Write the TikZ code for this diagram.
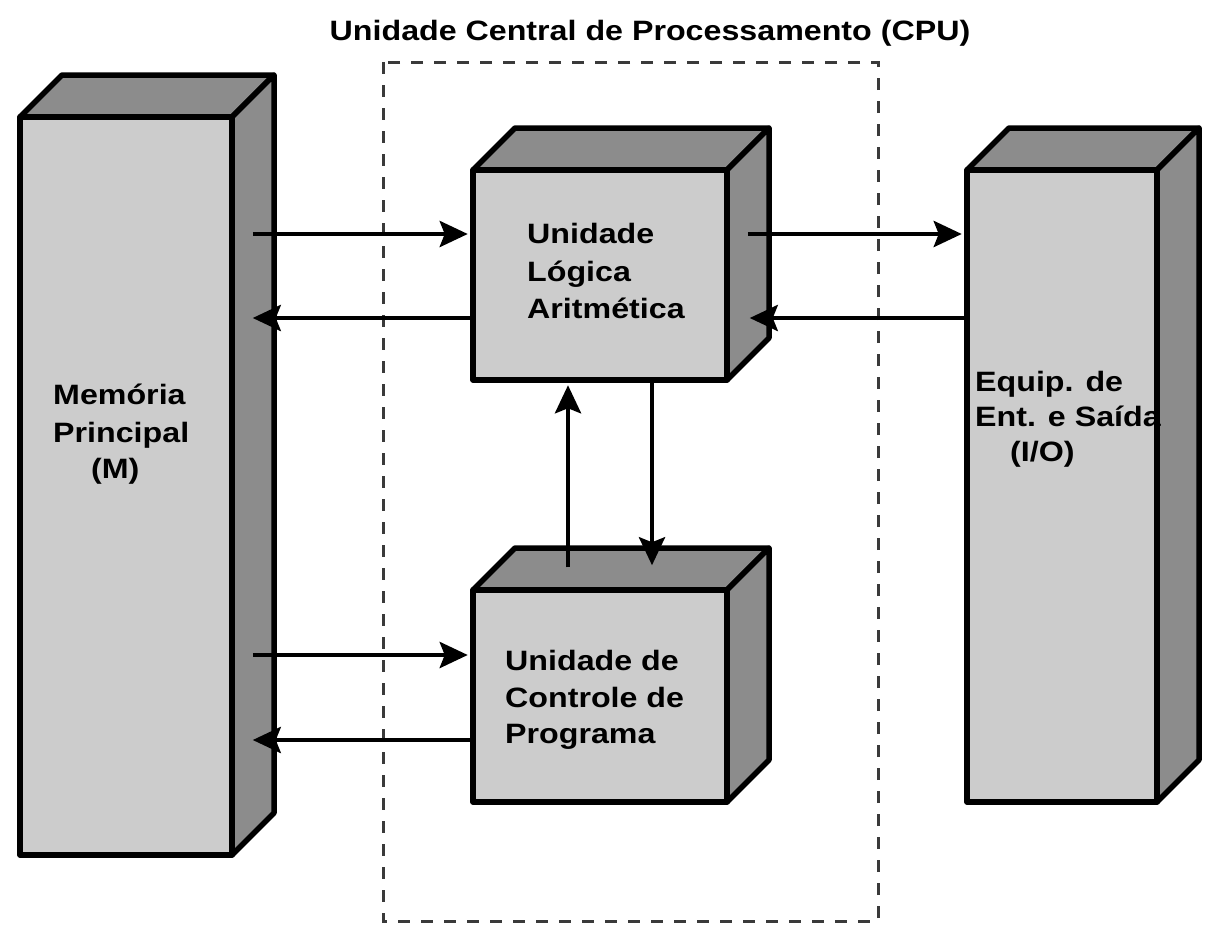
\documentclass[tikz,border=0pt]{standalone}
\usepackage{fontspec}
\setmainfont{Liberation Sans}[FakeStretch=1.15]
\usetikzlibrary{arrows.meta,calc}
\definecolor{facefront}{HTML}{CCCCCC}
\definecolor{faceside}{HTML}{8C8C8C}
\definecolor{dashcol}{HTML}{3A3A3A}
\tikzset{
  front/.style={draw=black, line width=5.5pt, fill=facefront, inner sep=0pt, line join=round},
  shadeface/.style={draw=black, line width=5.5pt, fill=faceside, line join=round},
  arr/.style={line width=4.5pt, -{Stealth[length=28pt,width=26pt,inset=5pt]}},
  lbl/.style={font=\bfseries\fontsize{28}{37}\selectfont, anchor=base west, inner sep=0pt},
  cpubox/.style={draw=dashcol, line width=3pt, dash pattern=on 12pt off 11pt},
}
% name, x1, y1, x2, y2, depth
\newcommand\mycube[6]{%
  \draw[shadeface] (#2,#3) -- ({#2+#6},{#3-#6}) -- ({#4+#6},{#3-#6}) -- (#4,#3) -- cycle;
  \draw[shadeface] (#4,#3) -- ({#4+#6},{#3-#6}) -- ({#4+#6},{#5-#6}) -- (#4,#5) -- cycle;
  \node[front, minimum width={#4-#2}, minimum height={#5-#3}] (#1) at ({(#2+#4)/2},{(#3+#5)/2}) {};
}
\begin{document}
\begin{tikzpicture}[x=1pt,y=-1pt]
\useasboundingbox (0,0) rectangle (1216,935);
% CPU dashed frame
\draw[cpubox] (383,62) rectangle (878,921);
\node[font=\bfseries\fontsize{28}{34}\selectfont, anchor=base] (title) at (650,40) {Unidade Central de Processamento (CPU)};

\mycube{mem}{20}{117}{232}{855}{42}
\mycube{alu}{473}{170}{727}{380}{42}
\mycube{pcu}{473}{590}{727}{802}{42}
\mycube{io}{967}{170}{1157}{802}{42}

% labels
\node[lbl] (memA) at (53,404) {Memória};
\node[lbl] (memB) at (53,442) {Principal};
\node[lbl] (memC) at (91,478) {(M)};

\node[lbl] (aluA) at (527,243) {Unidade};
\node[lbl] (aluB) at (527,281) {Lógica};
\node[lbl] (aluC) at (527,318) {Aritmética};

\node[lbl] (pcuA) at (505,670) {Unidade de};
\node[lbl] (pcuB) at (505,707) {Controle de};
\node[lbl] (pcuC) at (505,743) {Programa};

\node[lbl] (ioA) at (975,391) {Equip. de};
\node[lbl] (ioB) at (975,426) {Ent. e Saída};
\node[lbl] (ioC) at (1010,461) {(I/O)};

% connectors
\draw[arr] ([xshift=18pt]mem.east |- 0,234) -- ([xshift=-2.5pt]alu.west |- 0,234);
\draw[arr] (alu.west |- 0,318) -- ([xshift=18pt]mem.east |- 0,318);
\draw[arr] ([xshift=18pt]alu.east |- 0,234) -- ([xshift=-2.5pt]io.west |- 0,234);
\draw[arr] (io.west |- 0,318) -- ([xshift=20pt]alu.east |- 0,318);
\draw[arr] ([yshift=20pt]pcu.north -| 568,0) -- ([yshift=-2.5pt]alu.south -| 568,0);
\draw[arr] (alu.south -| 652,0) -- ([yshift=22pt]pcu.north -| 652,0);
\draw[arr] ([xshift=18pt]mem.east |- 0,655) -- ([xshift=-2.5pt]pcu.west |- 0,655);
\draw[arr] (pcu.west |- 0,740) -- ([xshift=18pt]mem.east |- 0,740);
\end{tikzpicture}
\end{document}
